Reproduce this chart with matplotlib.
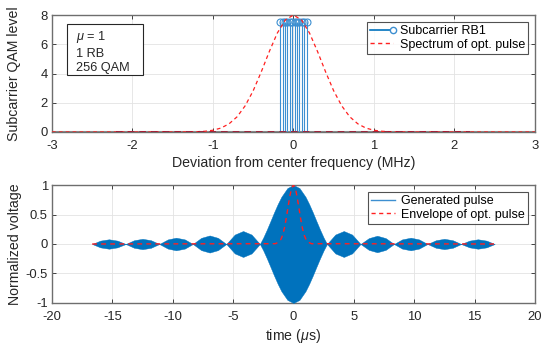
import matplotlib.pyplot as plt
from matplotlib.lines import Line2D
from matplotlib.patches import Rectangle
from matplotlib.legend_handler import HandlerBase

plt.rcParams['font.family'] = ['Liberation Sans', 'DejaVu Sans']
plt.rcParams['mathtext.fontset'] = 'custom'
plt.rcParams['mathtext.it'] = 'Liberation Sans:italic'
plt.rcParams['mathtext.rm'] = 'Liberation Sans'
plt.rcParams['axes.unicode_minus'] = False

# --- top panel: subcarriers of one RB (MHz) and spectrum of the optical pulse
sc_freq = [-0.165, -0.135, -0.105, -0.075, -0.045, -0.015,
           0.015, 0.045, 0.075, 0.105, 0.135, 0.165]
sc_level = [7.5] * 12

spec_freq = [-3.0, -1.4, -1.2, -1.1, -1.0, -0.9, -0.8, -0.7, -0.6, -0.5, -0.4, -0.3,
             -0.2, -0.1, 0.0, 0.1, 0.2, 0.3, 0.4, 0.5, 0.6, 0.7, 0.8, 0.9, 1.0,
             1.1, 1.2, 1.4, 3.0]
spec_level = [0.0, 0.0, 0.02, 0.05, 0.12, 0.27, 0.56, 1.04, 1.79, 2.82, 4.11, 5.50,
              6.77, 7.67, 8.0, 7.67, 6.77, 5.50, 4.11, 2.82, 1.79, 1.04, 0.56, 0.27, 0.12,
              0.05, 0.02, 0.0, 0.0]

base_freq = [-3, 3]
dark_base_freq = [-2.2, 2.2]

# --- bottom panel: envelope of generated pulse (us) and optical pulse envelope
pulse_t = [-16.67, -16.0, -15.28, -14.58, -13.89, -13.2, -12.5, -11.8, -11.11,
           -10.4, -9.72, -9.0, -8.33, -7.64, -6.94, -6.25, -5.56, -4.86, -4.17,
           -3.47, -2.78, -2.5, -2.2, -1.9, -1.6, -1.3, -1.0, -0.5, 0.0,
           0.5, 1.0, 1.3, 1.6, 1.9, 2.2, 2.5, 2.78, 3.47, 4.17, 4.86, 5.56,
           6.25, 6.94, 7.64, 8.33, 9.0, 9.72, 10.4, 11.11, 11.8, 12.5, 13.2,
           13.89, 14.58, 15.28, 16.0, 16.67]
pulse_env = [0.0, 0.057, 0.08, 0.057, 0.0, 0.064, 0.088, 0.064, 0.0,
             0.078, 0.107, 0.078, 0.0, 0.104, 0.145, 0.104, 0.0, 0.16, 0.22,
             0.16, 0.0, 0.109, 0.245, 0.39, 0.538, 0.677, 0.80, 0.948, 1.0,
             0.948, 0.80, 0.677, 0.538, 0.39, 0.245, 0.109, 0.0, 0.16, 0.22, 0.16, 0.0,
             0.1, 0.14, 0.1, 0.0, 0.078, 0.107, 0.078, 0.0, 0.064, 0.088, 0.064,
             0.0, 0.057, 0.08, 0.057, 0.0]

opt_t = [-16.67, -1.5, -1.2, -1.05, -0.9, -0.75, -0.6, -0.45, -0.3, -0.15, 0.0,
         0.15, 0.3, 0.45, 0.6, 0.75, 0.9, 1.05, 1.2, 1.5, 16.67]
opt_env = [0.0, 0.005, 0.033, 0.074, 0.147, 0.264, 0.427, 0.62, 0.808, 0.948, 1.0,
           0.948, 0.808, 0.62, 0.427, 0.264, 0.147, 0.074, 0.033, 0.005, 0.0]

blue = '#0072BD'
stem_blue = '#3D8FD1'
red = '#FF2020'
dark = '#262626'


class StemHandler(HandlerBase):
    def create_artists(self, legend, orig, xdescent, ydescent, width, height,
                       fontsize, trans):
        y = height / 2 - ydescent
        ln = Line2D([-xdescent, width - xdescent], [y, y], color=blue, lw=1.2)
        mk = Line2D([width - xdescent], [y], marker='o', ms=4.5, mfc='white',
                    mec=stem_blue, ls='')
        ln.set_transform(trans)
        mk.set_transform(trans)
        return [ln, mk]


def style(ax):
    ax.grid(True, color='#E3E3E3', lw=0.6)
    ax.set_axisbelow(True)
    ax.tick_params(direction='in', top=True, right=True, colors=dark,
                   labelsize=9.4, length=3, width=0.6, pad=3)
    ax.tick_params(axis='x', pad=6)
    for s in ax.spines.values():
        s.set_color('#6E6E6E')
        s.set_linewidth(1.0)


leg_kw = dict(loc='upper right', fontsize=9, frameon=True, fancybox=False,
              edgecolor=dark, borderpad=0.25, handlelength=1.9,
              handletextpad=0.5, labelspacing=0.12, borderaxespad=0.55)

fig = plt.figure(figsize=(5.5, 3.46), dpi=100)
ax1 = fig.add_axes([0.0945, 0.6185, 0.878, 0.338])
ax2 = fig.add_axes([0.0945, 0.1243, 0.878, 0.341])

# top
ax1.plot(base_freq, [0, 0], color='#8C8C8C', lw=2.2, zorder=2)
ax1.vlines(sc_freq, 0, sc_level, color=stem_blue, lw=0.8, zorder=3)
ax1.plot(sc_freq, sc_level, 'o', ms=5, mfc='none', mec=stem_blue, mew=0.8, zorder=3)
ax1.plot(spec_freq, spec_level, '--', color=red, lw=0.9, dashes=(3, 2.5), zorder=4)
ax1.plot(dark_base_freq, [0, 0], '--', color='#A2142F', lw=1.2, dashes=(4, 3), zorder=5)
ax1.set_xlim(-3, 3)
ax1.set_ylim(0, 8)
ax1.set_xticks([-3, -2, -1, 0, 1, 2, 3])
ax1.set_yticks([0, 2, 4, 6, 8])
ax1.set_xlabel('Deviation from center frequency (MHz)', fontsize=10.2, color=dark,
               labelpad=3)
ax1.set_ylabel('Subcarrier QAM level', fontsize=10.2, color=dark)
ax1.yaxis.set_label_coords(-0.064, 0.5)
style(ax1)
ax1.add_patch(Rectangle((0.031, 0.487), 0.157, 0.436, transform=ax1.transAxes,
                        fc='white', ec=dark, lw=0.8, zorder=6))
ax1.text(0.05, 0.88, '$\\mu$ = 1\n1 RB\n256 QAM', transform=ax1.transAxes,
         fontsize=9.2, color=dark, va='top', ha='left', linespacing=1.3, zorder=7)
h_stem = Line2D([], [])
h_spec = Line2D([], [], color=red, ls='--', lw=1.0, dashes=(3, 2.5))
leg1 = ax1.legend([h_stem, h_spec], ['Subcarrier RB1', 'Spectrum of opt. pulse'],
                  handler_map={h_stem: StemHandler()}, **leg_kw)
leg1.get_frame().set_linewidth(0.8)

# bottom
neg_env = [-v for v in pulse_env]
ax2.fill_between(pulse_t, neg_env, pulse_env, color=blue, lw=0.3, zorder=3)
ax2.plot(opt_t, opt_env, '--', color=red, lw=1.0, dashes=(3.5, 3), zorder=4)
ax2.set_xlim(-20, 20)
ax2.set_ylim(-1, 1)
ax2.set_xticks([-20, -15, -10, -5, 0, 5, 10, 15, 20])
ax2.set_yticks([-1, -0.5, 0, 0.5, 1])
ax2.set_yticklabels(['-1', '-0.5', '0', '0.5', '1'])
ax2.set_xlabel('time ($\\mu$s)', fontsize=10.2, color=dark, labelpad=3)
ax2.set_ylabel('Normalized voltage', fontsize=10.2, color=dark)
ax2.yaxis.set_label_coords(-0.062, 0.5)
style(ax2)
h_gen = Line2D([], [], color=stem_blue, lw=1.0)
h_opt = Line2D([], [], color=red, ls='--', lw=1.0, dashes=(3, 2.5))
leg2 = ax2.legend([h_gen, h_opt], ['Generated pulse', 'Envelope of opt. pulse'],
                  **leg_kw)
leg2.get_frame().set_linewidth(0.8)

fig.savefig('out.png', dpi=100)
